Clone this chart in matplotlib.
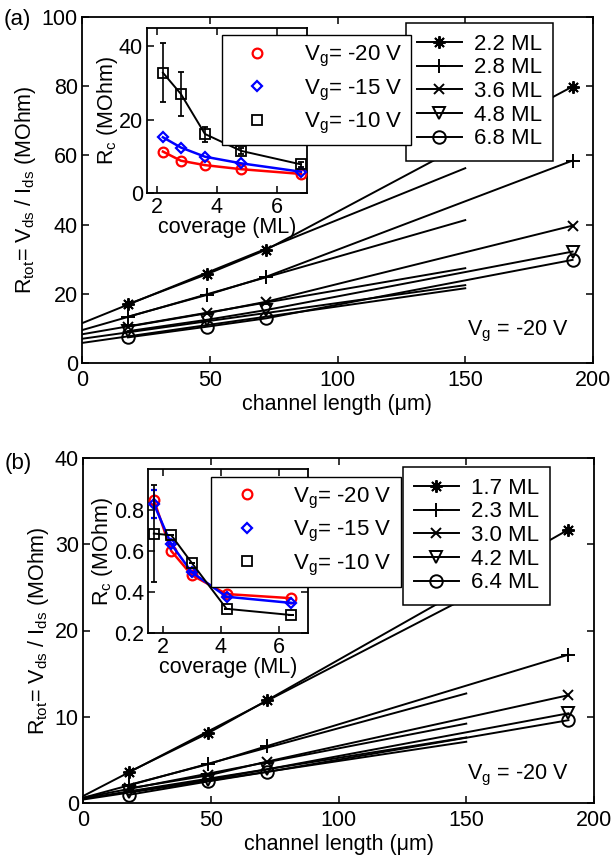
import matplotlib
matplotlib.use('Agg')
import matplotlib.pyplot as plt
from matplotlib.lines import Line2D

plt.rcParams['font.family'] = ['Liberation Sans', 'DejaVu Sans']
plt.rcParams['mathtext.fontset'] = 'custom'
plt.rcParams['mathtext.rm'] = 'Liberation Sans'
plt.rcParams['mathtext.it'] = 'Liberation Sans:italic'
FS = 15.5

# ---------------- data: panel (a) ----------------
length_a = [18, 49, 72, 192]
labels_a = ['2.2 ML', '2.8 ML', '3.6 ML', '4.8 ML', '6.8 ML']
R_a_22 = [17.0, 25.7, 32.7, 79.9]
R_a_28 = [13.4, 19.7, 24.9, 58.5]
R_a_36 = [10.5, 14.4, 17.7, 39.7]
R_a_48 = [9.2, 12.5, 15.3, 32.2]
R_a_68 = [7.4, 10.5, 12.9, 29.8]
fit_len = [0, 150]
fit_a_22 = [11.5, 56.3]
fit_a_28 = [9.5, 41.3]
fit_a_36 = [8.3, 27.4]
fit_a_48 = [7.0, 22.5]
fit_a_68 = [5.8, 21.6]

cov_a = [2.2, 2.8, 3.6, 4.8, 6.8]
Rc_a_m20 = [11.3, 8.8, 7.6, 6.5, 5.2]
Rc_a_m15 = [15.2, 12.4, 9.9, 8.1, 5.8]
Rc_a_m10 = [32.8, 27.0, 16.1, 11.5, 7.8]
Rc_a_m10_lo = [8.1, 5.9, 2.1, 0.8, 0.6]
Rc_a_m10_hi = [8.0, 6.0, 2.0, 0.8, 0.6]

# ---------------- data: panel (b) ----------------
length_b = [18, 49, 72, 190]
labels_b = ['1.7 ML', '2.3 ML', '3.0 ML', '4.2 ML', '6.4 ML']
R_b_17 = [3.6, 8.1, 11.9, 31.7]
R_b_23 = [2.1, 4.5, 6.6, 17.2]
R_b_30 = [1.7, 3.2, 4.8, 12.5]
R_b_42 = [1.3, 2.7, 3.9, 10.4]
R_b_64 = [0.95, 2.5, 3.6, 9.6]
fit_b_17 = [0.8, 23.8]
fit_b_23 = [0.6, 12.7]
fit_b_30 = [0.6, 9.2]
fit_b_42 = [0.5, 7.6]
fit_b_64 = [0.4, 7.1]

cov_b = [1.7, 2.3, 3.0, 4.2, 6.4]
Rc_b_m20 = [0.85, 0.60, 0.483, 0.39, 0.37]
Rc_b_m15 = [0.83, 0.633, 0.497, 0.377, 0.347]
Rc_b_m10 = [0.685, 0.677, 0.543, 0.318, 0.288]
Rc_b_m15_lo = [0.07, 0, 0, 0, 0]
Rc_b_m15_hi = [0.067, 0, 0, 0, 0]
Rc_b_m10_lo = [0.235, 0, 0, 0, 0]
Rc_b_m10_hi = [0.235, 0, 0, 0, 0]

vg_labels = [r'V$_{\mathregular{g}}$= -20 V', r'V$_{\mathregular{g}}$= -15 V',
             r'V$_{\mathregular{g}}$= -10 V']

# ---------------- styles ----------------
markers = [(8, 2, 0), '+', 'x', 'v', 'o']
msizes = [9, 10, 6.5, 8, 9]
W, H = 613, 863

fig = plt.figure(figsize=(W / 100, H / 100), dpi=100)


def fx(px):
    return px / W


def fy(py):
    return 1 - py / H


def style_axes(ax, lw=1.3):
    for s in ax.spines.values():
        s.set_linewidth(lw)
    ax.tick_params(direction='in', top=True, right=True, length=5,
                   width=1.1, labelsize=FS)
    ax.tick_params(axis='x', pad=5)
    ax.tick_params(axis='y', pad=3)


def main_panel(rect, length, series, fits, labels, ylim, yticks, leg_anchor):
    ax = fig.add_axes(rect)
    for y, f, m, ms in zip(series, fits, markers, msizes):
        ax.plot(fit_len, f, color='black', lw=1.4, zorder=2)
        ax.plot(length, y, color='black', lw=1.4, marker=m, ms=ms,
                mfc='none', mec='black', mew=1.4, zorder=3)
    ax.set_xlim(0, 200)
    ax.set_ylim(*ylim)
    ax.set_xticks([0, 50, 100, 150, 200])
    ax.set_yticks(yticks)
    style_axes(ax)
    ax.set_xlabel('channel length (\u03bcm)', fontsize=FS, labelpad=2)
    ax.set_ylabel(r'R$_{\mathregular{tot}}$= V$_{\mathregular{ds}}$ / I$_{\mathregular{ds}}$ (MOhm)',
                  fontsize=FS, labelpad=3)
    handles = [Line2D([], [], color='black', lw=1.4, marker=m, ms=ms,
                      mfc='none', mec='black', mew=1.4)
               for m, ms in zip(markers, msizes)]
    leg = ax.legend(handles, labels, loc='upper left',
                    bbox_to_anchor=leg_anchor, bbox_transform=fig.transFigure,
                    borderaxespad=0, fancybox=False, framealpha=1,
                    edgecolor='black', fontsize=16, handlelength=2.0,
                    labelspacing=0.12, handletextpad=0.55, borderpad=0.5)
    leg.get_frame().set_linewidth(1.1)
    leg.set_zorder(10)
    return ax


def inset_panel(rect, cov, r20, r15, r10, e15, e10, xlim, ylim, xticks, yticks,
                leg_anchor):
    ax = fig.add_axes(rect)
    ax.plot(cov, r20, color='red', lw=1.8, marker='o', ms=7, mfc='none',
            mec='red', mew=1.6, zorder=3)
    ax.errorbar(cov, r15, yerr=e15, color='blue', lw=1.8, marker='D', ms=5.5,
                mfc='none', mec='blue', mew=1.6, capsize=2.5, elinewidth=1.1,
                zorder=4)
    ax.errorbar(cov, r10, yerr=e10, color='black', lw=1.4, marker='s', ms=6.5,
                mfc='none', mec='black', mew=1.3, capsize=2.5, elinewidth=1.2,
                zorder=5)
    ax.set_xlim(*xlim)
    ax.set_ylim(*ylim)
    ax.set_xticks(xticks)
    ax.set_yticks(yticks)
    style_axes(ax, lw=1.3)
    ax.tick_params(axis='x', pad=3)
    ax.set_xlabel('coverage (ML)', fontsize=FS, labelpad=-1)
    ax.set_ylabel(r'R$_{\mathregular{c}}$ (MOhm)', fontsize=FS, labelpad=-1)
    handles = [Line2D([], [], ls='none', marker='o', ms=7, mfc='none', mec='red', mew=1.6),
               Line2D([], [], ls='none', marker='D', ms=5.5, mfc='none', mec='blue', mew=1.6),
               Line2D([], [], ls='none', marker='s', ms=6.5, mfc='none', mec='black', mew=1.3)]
    leg = ax.legend(handles, vg_labels, loc='upper left',
                    bbox_to_anchor=leg_anchor, bbox_transform=fig.transFigure,
                    borderaxespad=0, fancybox=False, framealpha=1,
                    edgecolor='black', fontsize=16, handlelength=2.4,
                    labelspacing=0.38, handletextpad=0.9, borderpad=0.4)
    leg.get_frame().set_linewidth(1.0)
    leg.set_zorder(10)
    return ax


# panel (a)
axa = main_panel([fx(82), fy(363), fx(511), 346 / H], length_a,
                 [R_a_22, R_a_28, R_a_36, R_a_48, R_a_68],
                 [fit_a_22, fit_a_28, fit_a_36, fit_a_48, fit_a_68],
                 labels_a, (0, 100), [0, 20, 40, 60, 80, 100],
                 (fx(406), fy(22.7)))
axa.text(150.5, 8.0, r'V$_{\mathregular{g}}$ = -20 V', fontsize=FS)
fig.text(fx(4), fy(19), '(a)', fontsize=16, va='center')

inset_panel([fx(147), fy(193), fx(160), 165 / H], cov_a, Rc_a_m20, Rc_a_m15,
            Rc_a_m10, None, [Rc_a_m10_lo, Rc_a_m10_hi], (1.67, 7), (0, 45),
            [2, 4, 6], [0, 20, 40], (fx(221.7), fy(35)))

# panel (b)
axb = main_panel([fx(83), fy(803), fx(511), 345 / H], length_b,
                 [R_b_17, R_b_23, R_b_30, R_b_42, R_b_64],
                 [fit_b_17, fit_b_23, fit_b_30, fit_b_42, fit_b_64],
                 labels_b, (0, 40), [0, 10, 20, 30, 40],
                 (fx(403), fy(466.7)))
axb.text(150.2, 2.7, r'V$_{\mathregular{g}}$ = -20 V', fontsize=FS)
fig.text(fx(5), fy(463), '(b)', fontsize=16, va='center')

inset_panel([fx(148), fy(633), fx(160), 164 / H], cov_b, Rc_b_m20, Rc_b_m15,
            Rc_b_m10, [Rc_b_m15_lo, Rc_b_m15_hi], [Rc_b_m10_lo, Rc_b_m10_hi],
            (1.5, 7), (0.2, 1.0), [2, 4, 6], [0.2, 0.4, 0.6, 0.8],
            (fx(211), fy(476.7)))

fig.savefig('out.png', dpi=100)
